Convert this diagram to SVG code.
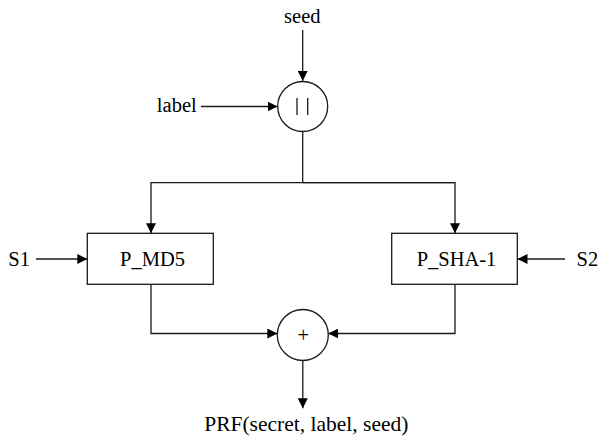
<svg xmlns="http://www.w3.org/2000/svg" width="599" height="436" viewBox="0 0 599 436">
<style>
.t{font-family:'Liberation Serif','Times New Roman','DejaVu Serif',serif;font-size:20.5px;fill:#000}
.ln{fill:none;stroke:#1a1a1a;stroke-width:1.3}
.nd{fill:#fff;stroke:#1a1a1a;stroke-width:1.3}
</style>
<defs>
<marker id="ah" markerUnits="userSpaceOnUse" markerWidth="11" markerHeight="10" refX="10" refY="5" orient="auto" viewBox="0 0 11 10">
<path d="M0,0 L10,5 L0,10 z" fill="#000"/>
</marker>
</defs>
<g id="connectors">
<line class="ln" x1="302.7" y1="30" x2="302.7" y2="81" marker-end="url(#ah)"/>
<line class="ln" x1="201" y1="106.5" x2="277.5" y2="106.5" marker-end="url(#ah)"/>
<polyline class="ln" points="302.7,131.5 302.7,182.7"/>
<polyline class="ln" points="455,182.7 151,182.7 151,233.3" marker-end="url(#ah)"/>
<polyline class="ln" points="302.7,182.7 455,182.7 455,233.3" marker-end="url(#ah)"/>
<line class="ln" x1="36" y1="259" x2="87.3" y2="259" marker-end="url(#ah)"/>
<line class="ln" x1="565" y1="259" x2="517.5" y2="259" marker-end="url(#ah)"/>
<polyline class="ln" points="151,284.3 151,333.5 277.3,333.5" marker-end="url(#ah)"/>
<polyline class="ln" points="455,284.3 455,333.5 328.3,333.5" marker-end="url(#ah)"/>
<line class="ln" x1="302.8" y1="360.7" x2="302.8" y2="408.3" marker-end="url(#ah)"/>
</g>
<g id="seed"><text class="t" x="302.3" y="23.3" text-anchor="middle">seed</text></g>
<g id="label"><text class="t" x="196.7" y="111.7" text-anchor="end">label</text></g>
<g id="concat">
<circle class="nd" cx="302.7" cy="106.5" r="25"/>
<line class="ln" x1="297" y1="98" x2="297" y2="115" stroke-width="1.1"/>
<line class="ln" x1="307.7" y1="98" x2="307.7" y2="115" stroke-width="1.1"/>
</g>
<g id="pmd5">
<rect class="nd" x="87.3" y="233.3" width="126" height="51"/>
<text class="t" x="152.5" y="266" text-anchor="middle">P_MD5</text>
</g>
<g id="psha1">
<rect class="nd" x="391.7" y="233.3" width="125.6" height="51"/>
<text class="t" x="456.5" y="266" text-anchor="middle">P_SHA-1</text>
</g>
<g id="s1"><text class="t" x="8.3" y="266">S1</text></g>
<g id="s2"><text class="t" x="576.5" y="266">S2</text></g>
<g id="xor">
<circle class="nd" cx="302.8" cy="335" r="25.5"/>
<text class="t" x="303.3" y="342" text-anchor="middle">+</text>
</g>
<g id="prf"><text class="t" x="306.3" y="431" text-anchor="middle" style="font-size:21.5px">PRF(secret, label, seed)</text></g>
</svg>
